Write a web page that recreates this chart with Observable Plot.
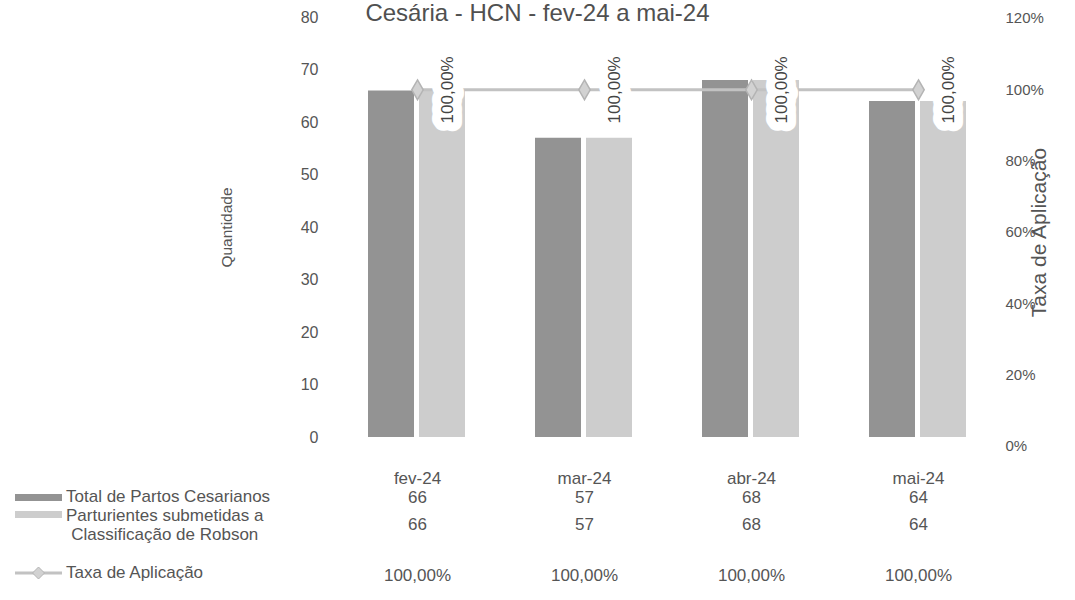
<!DOCTYPE html>
<html><head><meta charset="utf-8">
<script src="https://cdn.jsdelivr.net/npm/d3@7"></script>
<script src="https://cdn.jsdelivr.net/npm/@observablehq/plot@0.6"></script>
<style>
body{margin:0;background:#fff;font-family:"Liberation Sans",Arial,sans-serif;color:#555}
#wrap{position:relative;width:1075px;height:600px;overflow:hidden;background:#fff}
#wrap svg{position:absolute;left:0;top:0}
.abs{position:absolute;white-space:nowrap}
</style></head><body><div id="wrap"></div>
<script>
const title = "Cesária - HCN - fev-24 a mai-24";
const months = ["fev-24", "mar-24", "abr-24", "mai-24"];
const partos = [66, 57, 68, 64];
const robson = [66, 57, 68, 64];
const taxa = [1, 1, 1, 1];
const taxaText = ["100,00%", "100,00%", "100,00%", "100,00%"];
const seriesKeys = ["Total de Partos Cesarianos", "Parturientes submetidas a Classificação de Robson"];
const seriesColors = ["#939393", "#cdcdcd"];
const lineColor = "#c2c2c2";
const leftTicks = [0, 10, 20, 30, 40, 50, 60, 70, 80];
const rightTicks = [0, 0.2, 0.4, 0.6, 0.8, 1.0, 1.2];
const leftLabel = "Quantidade";
const rightLabel = "Taxa de Aplicação";

const font = "'Liberation Sans', Arial, sans-serif";
const txt = "#555";
const W = 1075, H = 600, ML = 333, MR = 74;

const bars = months.flatMap((m, i) => [
  {month: m, series: seriesKeys[0], value: partos[i]},
  {month: m, series: seriesKeys[1], value: robson[i]}
]);
const rate = months.map((m, i) => ({month: m, taxa: taxa[i], label: taxaText[i]}));

const wrap = document.getElementById("wrap");
const baseStyle = {fontFamily: font, fontSize: "16px", color: txt, background: "transparent", overflow: "visible"};

// Plot A: bars + left axis
const A = Plot.plot({
  width: W, height: H, marginLeft: ML, marginRight: MR, marginTop: 17, marginBottom: 163,
  style: baseStyle,
  fx: {domain: months, paddingInner: 0.42, paddingOuter: 0.21, axis: null, label: null},
  x: {domain: seriesKeys, paddingInner: 0.1, paddingOuter: 0, axis: null},
  y: {domain: [0, 80], ticks: leftTicks, tickSize: 0, tickPadding: 50, label: leftLabel,
      labelAnchor: "center", labelOffset: 148, labelArrow: "none"},
  color: {domain: seriesKeys, range: seriesColors},
  marks: [
    Plot.barY(bars, {fx: "month", x: "series", y: "value", fill: "series"})
  ]
});
A.querySelectorAll("g[aria-label='y-axis label']").forEach(e => e.setAttribute("font-size", "15.5"));
wrap.appendChild(A);

// Plot B: rate line + right axis
const B = Plot.plot({
  width: W, height: H, marginLeft: ML, marginRight: MR, marginTop: 18, marginBottom: 154,
  style: baseStyle,
  x: {type: "point", domain: months, padding: 0.5, axis: null},
  y: {domain: [0, 1.2], ticks: rightTicks, tickFormat: d => Math.round(d * 100) + "%", axis: "right",
      tickSize: 0, tickPadding: 4, label: rightLabel, labelAnchor: "center", labelOffset: 44, labelArrow: "none"},
  marks: [
    Plot.line(rate, {x: "month", y: "taxa", stroke: lineColor, strokeWidth: 3}),
    Plot.dot(rate, {x: "month", y: "taxa", symbol: "diamond", r: 6, fill: "#d2d2d2", stroke: "#b4b4b4"}),
    Plot.text(rate, {x: "month", y: "taxa", text: "label", rotate: -90, dx: 30, fontSize: 17,
      fill: "#444", stroke: "white", strokeWidth: 18, strokeLinejoin: "round"})
  ]
});
B.querySelectorAll("g[aria-label='y-axis label']").forEach(e => e.setAttribute("font-size", "21"));
B.querySelectorAll("g[aria-label='y-axis tick label']").forEach(e => e.setAttribute("font-size", "15"));
wrap.appendChild(B);

// Plot C: data table (one text row per series, aligned on the month scale)
const rows = [
  {values: months, top: 478},
  {values: partos.map(String), top: 497},
  {values: robson.map(String), top: 524},
  {values: taxaText, top: 575}
];
const C = Plot.plot({
  width: W, height: H, marginLeft: ML, marginRight: MR, marginTop: 0, marginBottom: 0,
  style: baseStyle,
  x: {type: "point", domain: months, padding: 0.5, axis: null},
  y: {axis: null},
  marks: rows.map(r => Plot.text(months.map((m, i) => ({month: m, text: r.values[i]})),
    {x: "month", text: "text", frameAnchor: "top", dy: r.top, lineAnchor: "middle", fontSize: 17, fill: txt}))
});
wrap.appendChild(C);

// Title
const t = document.createElement("div");
t.className = "abs";
t.style.cssText = `left:0;width:${W}px;text-align:center;top:0px;font-size:24px;line-height:26px;color:#505050`;
t.textContent = title;
wrap.appendChild(t);

// Legend (data table row headers)
function add(html, css) { const d = document.createElement("div"); d.className = "abs"; d.style.cssText = css; d.innerHTML = html; wrap.appendChild(d); }
add("", `left:15px;top:494px;width:47px;height:7px;background:${seriesColors[0]}`);
add("Total de Partos Cesarianos", `left:66px;top:487px;font-size:17px;line-height:19px;color:${txt}`);
add("", `left:15px;top:511px;width:47px;height:7px;background:${seriesColors[1]}`);
add("Parturientes submetidas a<br>Classificação de Robson", `left:66px;top:506px;font-size:17px;line-height:19px;text-align:center;color:${txt}`);
add(`<svg width="47" height="14"><line x1="0" y1="7" x2="47" y2="7" stroke="${lineColor}" stroke-width="3"/><path d="M23.5,1 L29.5,7 L23.5,13 L17.5,7Z" fill="#d2d2d2" stroke="#b4b4b4"/></svg>`, `left:15px;top:566px;width:47px;height:14px`);
add(rightLabel, `left:66px;top:563px;font-size:17px;line-height:19px;color:${txt}`);
</script></body></html>
